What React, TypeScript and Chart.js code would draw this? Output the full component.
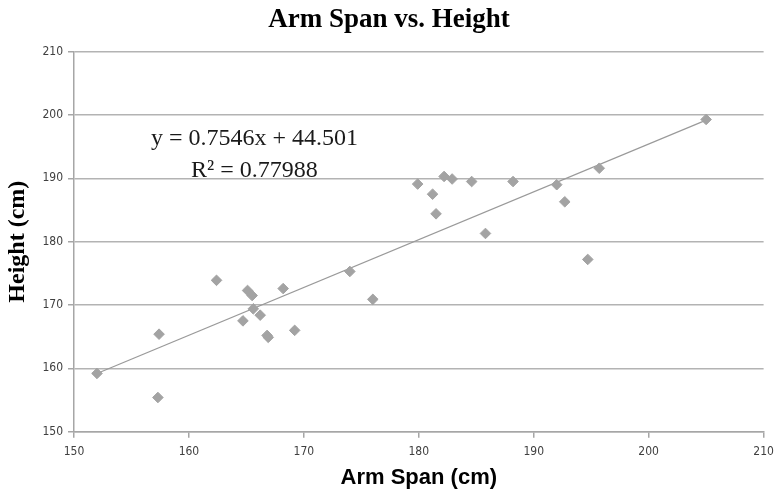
import React, { useEffect, useRef } from "react";
import { Chart, registerables } from "chart.js";

Chart.register(...registerables);

// Data
const armSpan = [
  152.0, 157.3, 157.4, 162.4, 164.7, 165.1, 165.5, 165.6, 166.2, 166.8, 166.9,
  168.2, 169.2, 174.0, 176.0, 179.9, 181.2, 181.5, 182.2, 182.9, 184.6, 185.8,
  188.2, 192.0, 192.7, 194.7, 195.7, 205.0,
];
const height = [
  159.2, 155.4, 165.4, 173.9, 167.5, 172.3, 171.5, 169.4, 168.4, 165.2, 164.9,
  172.6, 166.0, 175.3, 170.9, 189.1, 187.5, 184.4, 190.3, 189.9, 189.5, 181.3,
  189.5, 189.0, 186.3, 177.2, 191.6, 199.3,
];
const slope = 0.7546;
const intercept = 44.501;
const trendX = [152.0, 205.0];
const xTicks = [150, 160, 170, 180, 190, 200, 210];
const yTicks = [150, 160, 170, 180, 190, 200, 210];
const chartTitle = "Arm Span vs. Height";
const equationLines = ["y = 0.7546x + 44.501", "R\u00B2 = 0.77988"];

const TICK_FONT = "'Liberation Sans Narrow', 'DejaVu Sans Condensed', 'Liberation Sans', sans-serif";
const SERIF = "'Liberation Serif', 'DejaVu Serif', serif";
const SANS = "'Liberation Sans', 'DejaVu Sans', sans-serif";

const textPlugin = {
  id: "textOverlay",
  afterDatasetsDraw(chart: any) {
    const { ctx, scales, width } = chart;
    ctx.save();
    // chart title
    ctx.font = `bold 27px ${SERIF}`;
    ctx.fillStyle = "#000";
    ctx.textAlign = "center";
    ctx.textBaseline = "alphabetic";
    ctx.fillText(chartTitle, width / 2 + 1, 27);
    // trendline equation
    const x = scales.x.getPixelForValue(165.7);
    const y1 = scales.y.getPixelForValue(195.3);
    const y2 = scales.y.getPixelForValue(190.25);
    ctx.font = `24px ${SERIF}`;
    ctx.fillStyle = "#1a1a1a";
    ctx.fillText(equationLines[0], x, y1);
    ctx.fillText(equationLines[1], x, y2);
    ctx.restore();
  },
};

export default function App() {
  const ref = useRef<HTMLCanvasElement | null>(null);
  useEffect(() => {
    if (!ref.current) return;
    const points = armSpan.map((x, i) => ({ x, y: height[i] }));
    const trend = trendX.map((x) => ({ x, y: slope * x + intercept }));
    const chart = new Chart(ref.current, {
      type: "scatter",
      data: {
        datasets: [
          {
            type: "line",
            data: trend,
            borderColor: "#9a9a9a",
            borderWidth: 1.2,
            pointRadius: 0,
            fill: false,
            order: 2,
          } as any,
          {
            data: points,
            pointStyle: "rectRot",
            pointRadius: 5.3,
            pointBackgroundColor: "#a3a3a3",
            pointBorderColor: "#a3a3a3",
            pointBorderWidth: 1,
            order: 1,
          },
        ],
      },
      options: {
        animation: false,
        responsive: true,
        maintainAspectRatio: false,
        layout: { padding: { top: 51.7, left: 0, right: 12.4, bottom: 0 } },
        plugins: {
          legend: { display: false },
          tooltip: { enabled: false },
          title: { display: false },
        },
        scales: {
          x: {
            type: "linear",
            min: 150,
            max: 210,
            afterBuildTicks: (s: any) => {
              s.ticks = xTicks.map((v) => ({ value: v }));
            },
            afterFit: (s: any) => {
              s.height = 64.3;
              s.paddingLeft = 0;
              s.paddingRight = 0;
            },
            ticks: {
              color: "#404040",
              font: { family: TICK_FONT, size: 12 },
              padding: 7,
              maxRotation: 0,
            },
            grid: {
              drawOnChartArea: false,
              tickColor: "#a6a6a6",
              tickLength: 6,
              lineWidth: 1.5,
            },
            border: { display: true, color: "#a6a6a6", width: 1.5 },
            title: {
              display: true,
              text: "Arm Span (cm)",
              color: "#000",
              font: { family: SANS, size: 22, weight: "bold", lineHeight: 1.2 },
              padding: { top: 0, bottom: 4.8 },
            },
          },
          y: {
            type: "linear",
            min: 150,
            max: 210,
            afterBuildTicks: (s: any) => {
              s.ticks = yTicks.map((v) => ({ value: v }));
            },
            afterFit: (s: any) => {
              s.width = 74;
              s.paddingTop = 0;
              s.paddingBottom = 0;
            },
            ticks: {
              color: "#404040",
              font: { family: TICK_FONT, size: 12 },
              padding: 5,
            },
            grid: {
              color: "#b3b3b3",
              tickColor: "#a6a6a6",
              tickLength: 6,
              lineWidth: 1.5,
            },
            border: { display: true, color: "#a6a6a6", width: 1.5 },
            title: {
              display: true,
              text: "Height (cm)",
              color: "#000",
              font: { family: SERIF, size: 24, weight: "bold", lineHeight: 1.2 },
              padding: { top: 3, bottom: 0 },
            },
          },
        },
      },
      plugins: [textPlugin],
    });
    return () => chart.destroy();
  }, []);
  return (
    <div style={{ position: "absolute", left: 0, top: 0, width: 776, height: 496, background: "#fff" }}>
      <canvas ref={ref} />
    </div>
  );
}
